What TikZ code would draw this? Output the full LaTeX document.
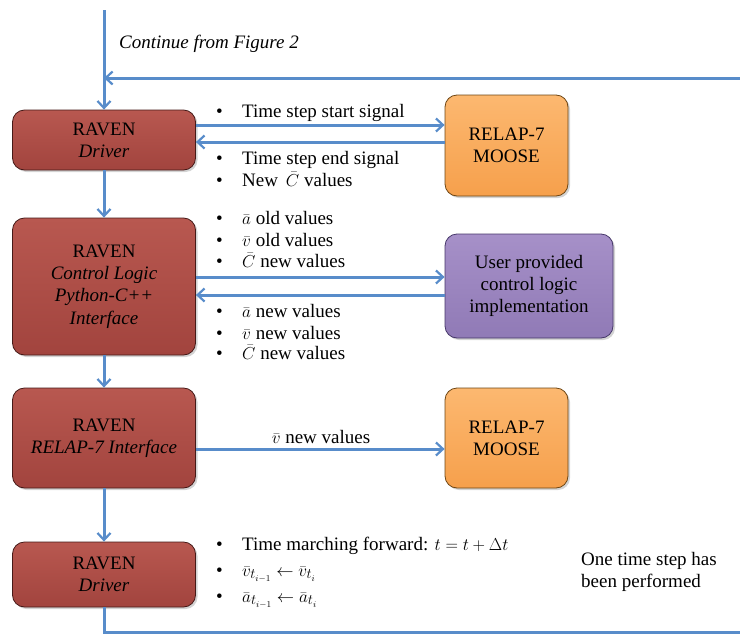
\documentclass[tikz,border=0pt]{standalone}
\usepackage{fontspec}
\setmainfont{Liberation Serif}
\usetikzlibrary{arrows.meta,shadows}
\definecolor{flow}{RGB}{88,140,202}
\definecolor{redtop}{RGB}{184,88,80}
\definecolor{redbot}{RGB}{162,68,62}
\definecolor{redline}{RGB}{70,26,24}
\definecolor{orgtop}{RGB}{252,184,112}
\definecolor{orgbot}{RGB}{246,160,76}
\definecolor{orgline}{RGB}{110,70,20}
\definecolor{purtop}{RGB}{166,144,200}
\definecolor{purbot}{RGB}{144,122,182}
\definecolor{purline}{RGB}{70,55,105}
\tikzset{
  boxbase/.style={rounded corners=12pt, line width=0.8pt, align=center,
    font=\fontsize{19}{22.3}\selectfont, inner sep=2pt,
    drop shadow={opacity=0.35, shadow xshift=2pt, shadow yshift=-2pt}},
  ravenbox/.style={boxbase, draw=redline, top color=redtop, bottom color=redbot,
    minimum width=183pt},
  orgbox/.style={boxbase, draw=orgline, top color=orgtop, bottom color=orgbot,
    minimum width=123pt, minimum height=100pt},
  purbox/.style={boxbase, draw=purline, top color=purtop, bottom color=purbot,
    minimum width=168pt, minimum height=104pt},
  arr/.style={draw=flow, line width=3pt, -{Straight Barb[length=7pt,width=13pt,line width=2.2pt]}},
  ln/.style={draw=flow, line width=3pt},
  item/.style={anchor=west, inner sep=0pt, text height=12pt, text depth=4pt,
    font=\fontsize{19}{22}\selectfont},
  lab/.style={inner sep=0pt, font=\fontsize{19}{22}\selectfont}
}
\newcommand{\bul}{\makebox[26pt][l]{\textbullet}}
\begin{document}
\begin{tikzpicture}[x=1pt,y=-1pt]
\useasboundingbox (0,0) rectangle (740,635);
% boxes
\node[ravenbox, minimum height=60pt] (d1) at (104,140) {RAVEN\\\textit{Driver}};
\node[orgbox, minimum height=101pt] (m1) at (506.5,145.5) {RELAP-7\\MOOSE};
\node[ravenbox, minimum height=137pt] (cl) at (104,286.5) {RAVEN\\\textit{Control Logic}\\\textit{Python-C++}\\\textit{Interface}};
\node[purbox] (up) at (529,286) {User provided\\control logic\\implementation};
\node[ravenbox, minimum height=100pt] (ri) at (104,438) {RAVEN\\\textit{RELAP-7 Interface}};
\node[orgbox] (m2) at (506.5,438) {RELAP-7\\MOOSE};
\node[ravenbox, minimum height=65pt] (d4) at (104,574.5) {RAVEN\\\textit{Driver}};
% coordinates
\coordinate (top) at (104,10);
\coordinate (fbR) at (740,78);
\coordinate (fbL) at (104,78);
\coordinate (botC) at (104,632);
\coordinate (botR) at (740,632);
% flow lines
\draw[arr] (top) -- (d1.north);
\draw[arr] (fbR) -- (fbL);
\draw[arr] (d1.south) -- (cl.north);
\draw[arr] (cl.south) -- (ri.north);
\draw[arr] (ri.south) -- (d4.north);
\draw[ln] (d4.south) -- (botC) -- (botR);
\draw[arr] (d1.east |- 0,125) -- (m1.west |- 0,125);
\draw[arr] (m1.west |- 0,142) -- (d1.east |- 0,142);
\draw[arr] (cl.east |- 0,277) -- (up.west |- 0,277);
\draw[arr] (up.west |- 0,295) -- (cl.east |- 0,295);
\draw[arr] (ri.east |- 0,449) -- (m2.west |- 0,449);
% labels
\node[lab, anchor=west, font=\fontsize{19}{22}\selectfont\itshape] (cont) at (119,44) {Continue from Figure 2};
\node[item] (t1) at (216,113) {\bul Time step start signal};
\node[item] (t2) at (216,160) {\bul Time step end signal};
\node[item] (t3) at (216,182) {\bul New\, $\bar{C}$ values};
\node[item] (c1) at (216,220) {\bul $\bar{a}$ old values};
\node[item] (c2) at (216,242) {\bul $\bar{v}$ old values};
\node[item] (c3) at (216,263) {\bul $\bar{C}$ new values};
\node[item] (c4) at (216,313) {\bul $\bar{a}$ new values};
\node[item] (c5) at (216,335) {\bul $\bar{v}$ new values};
\node[item] (c6) at (216,355) {\bul $\bar{C}$ new values};
\node[lab] (vn) at (321,437) {$\bar{v}$ new values};
\node[item] (f1) at (216,546) {\bul Time marching forward: $t=t+\Delta t$};
\node[item] (f2) at (216,572) {\bul $\bar{v}_{t_{i-1}}\leftarrow\bar{v}_{t_i}$};
\node[item] (f3) at (216,598) {\bul $\bar{a}_{t_{i-1}}\leftarrow\bar{a}_{t_i}$};
\node[lab, anchor=west, align=left, font=\fontsize{19}{22}\selectfont] (done) at (581,572) {One time step has\\been performed};
\end{tikzpicture}
\end{document}
